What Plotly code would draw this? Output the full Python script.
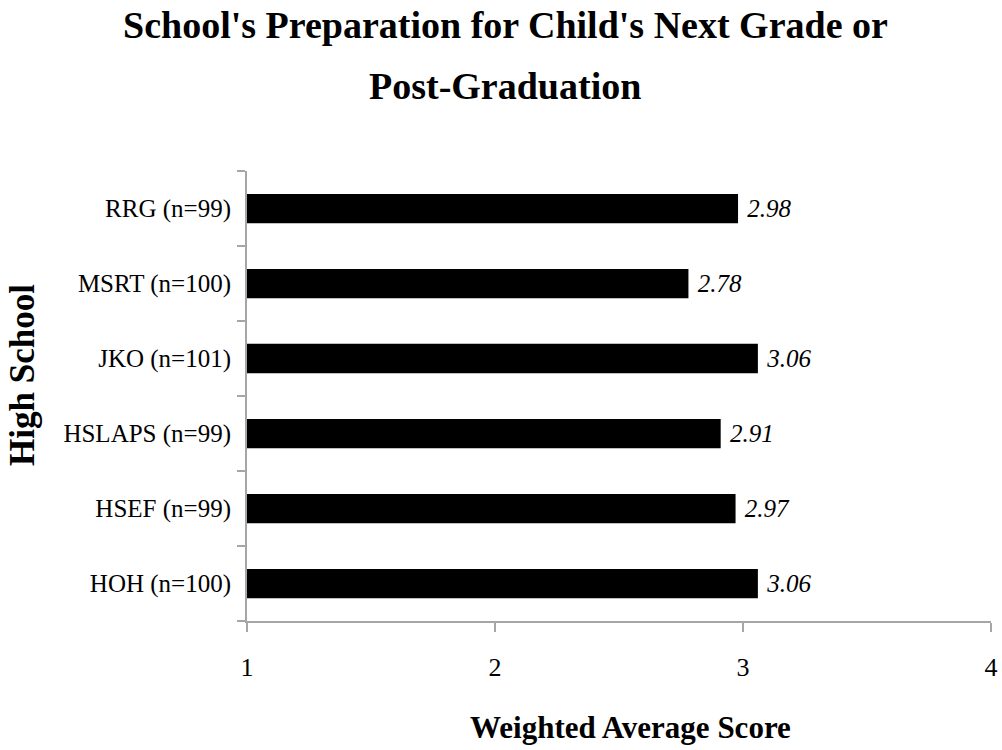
import plotly.graph_objects as go

categories = ["HOH (n=100)", "HSEF (n=99)", "HSLAPS (n=99)", "JKO (n=101)", "MSRT (n=100)", "RRG (n=99)"]
values = [3.06, 2.97, 2.91, 3.06, 2.78, 2.98]
x_ticks = [1, 2, 3, 4]
title_lines = ["School's Preparation for Child's Next Grade or", "Post-Graduation"]
x_title = "Weighted Average Score"
y_title = "High School"

FONT = "Liberation Serif"
AXIS_COLOR = "#a6a6a6"
W, H = 1002, 750
M = dict(l=247, r=11, t=171, b=129)
PLOT_H = H - M["t"] - M["b"]
PLOT_W = W - M["l"] - M["r"]


def py(px):
    """pixel y (from top) -> paper coordinate"""
    return (H - M["b"] - px) / PLOT_H


def px_x(px):
    return (px - M["l"]) / PLOT_W


fig = go.Figure(go.Bar(
    y=categories, x=[v - 1 for v in values], base=1, orientation="h",
    marker=dict(color="black", line=dict(width=0)),
    width=0.39,
    text=[f" {v:.2f}" for v in values], textposition="outside",
    textfont=dict(family=FONT, size=25, color="black", style="italic"),
    cliponaxis=False,
    hoverinfo="skip",
))

annotations = [
    dict(text=title_lines[0], x=px_x(505), y=py(25), xref="paper", yref="paper",
         xanchor="center", yanchor="middle", showarrow=False,
         font=dict(family=FONT, size=38, color="black", weight="bold")),
    dict(text=title_lines[1], x=px_x(505), y=py(86), xref="paper", yref="paper",
         xanchor="center", yanchor="middle", showarrow=False,
         font=dict(family=FONT, size=38, color="black", weight="bold")),
    dict(text=x_title, x=px_x(630), y=py(727), xref="paper", yref="paper",
         xanchor="center", yanchor="middle", showarrow=False,
         font=dict(family=FONT, size=31, color="black", weight="bold")),
    dict(text=y_title, x=px_x(22), y=py(375), xref="paper", yref="paper",
         xanchor="center", yanchor="middle", showarrow=False, textangle=-90,
         font=dict(family=FONT, size=35, color="black", weight="bold")),
]

fig.update_layout(
    width=W, height=H,
    margin=dict(**M, autoexpand=False),
    paper_bgcolor="white", plot_bgcolor="white",
    showlegend=False,
    annotations=annotations,
    font=dict(family=FONT, color="black"),
)

fig.update_xaxes(
    range=[1, 4], tickvals=x_ticks, ticktext=[str(t) for t in x_ticks],
    showgrid=False, zeroline=False, automargin=False,
    showline=True, linecolor=AXIS_COLOR, linewidth=2,
    ticks="outside", ticklen=9, tickcolor=AXIS_COLOR, tickwidth=2,
    tickfont=dict(family=FONT, size=26, color="black"),
    ticklabelstandoff=13,
)

fig.update_yaxes(
    type="category", categoryorder="array", categoryarray=categories,
    showgrid=False, zeroline=False, automargin=False,
    showline=True, linecolor=AXIS_COLOR, linewidth=2,
    ticks="outside", tickson="boundaries", ticklen=8, tickcolor=AXIS_COLOR, tickwidth=2,
    tickfont=dict(family=FONT, size=25, color="black"),
    ticklabelstandoff=9,
)

fig.write_html("out.html", config={"displayModeBar": False},
               post_script="document.body.style.margin='0px';")
